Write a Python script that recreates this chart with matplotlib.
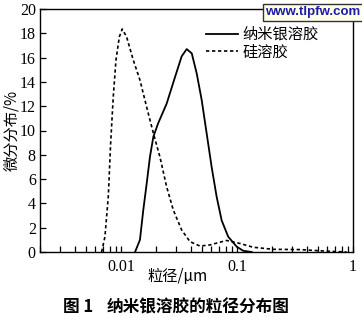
import matplotlib
matplotlib.use("Agg")
import matplotlib.pyplot as plt
from matplotlib.ticker import LogLocator, FixedLocator, NullFormatter, FixedFormatter

# ---- data ----
ag_x = [0.0132, 0.01455, 0.01555, 0.01664, 0.01776, 0.0190, 0.0209, 0.0247, 0.0292,
        0.0333, 0.0368, 0.0407, 0.0449, 0.0496, 0.0547, 0.0604, 0.0667, 0.0737,
        0.0839, 0.0993, 0.113, 0.134]
ag_y = [0.0, 1.0, 3.46, 5.65, 7.85, 9.5, 10.6, 12.2, 14.4,
        16.1, 16.7, 16.35, 14.7, 12.5, 9.77, 7.0, 4.55, 2.6,
        1.26, 0.44, 0.1, 0.0]

si_x = [0.0068, 0.00726, 0.00776, 0.00813, 0.00857, 0.00904, 0.00966, 0.01024, 0.01117,
        0.01274, 0.01455, 0.0166, 0.019, 0.0216, 0.0247, 0.0282, 0.0333, 0.0393,
        0.0479, 0.0584, 0.0689, 0.0813, 0.106, 0.138, 0.205, 0.348, 0.519, 0.67, 0.88]
si_y = [0.0, 1.26, 4.55, 8.94, 12.8, 15.8, 17.7, 18.35, 17.7,
        15.8, 14.15, 11.95, 9.77, 7.85, 5.38, 3.46, 1.81, 0.85,
        0.49, 0.58, 0.77, 0.95, 0.7, 0.39, 0.22, 0.2, 0.1, 0.05, 0.0]

series_names = ["纳米银溶胶", "硅溶胶"]
y_ticks = [0, 2, 4, 6, 8, 10, 12, 14, 16, 18, 20]
x_major = [0.01, 0.1, 1]
x_major_labels = ["0.01", "0.1", "1"]
x_label = "粒径/μm"
y_label = "微分分布/%"
caption_num = "图 1"
caption_text = "纳米银溶胶的粒径分布图"
watermark = "www.tlpfw.com"

W, H = 362, 318
fig = plt.figure(figsize=(W / 100, H / 100), dpi=100)
L, R, T, B = 40, 353, 9, 252
ax = fig.add_axes([L / W, 1 - B / H, (R - L) / W, (B - T) / H])

ax.plot(ag_x, ag_y, color="black", lw=1.3, linestyle="-", label=series_names[0])
ax.plot(si_x, si_y, color="black", lw=1.2, linestyle=(0, (2.0, 1.6)), label=series_names[1])

ax.set_xscale("log")
ax.set_xlim(0.002, 1)
ax.set_ylim(0, 20)

serif = ["Liberation Serif", "DejaVu Serif"]
cjk = ["Noto Sans CJK SC", "DejaVu Sans"]

ax.xaxis.set_major_locator(FixedLocator(x_major))
ax.xaxis.set_major_formatter(FixedFormatter(x_major_labels))
ax.xaxis.set_minor_locator(LogLocator(base=10, subs=[2, 3, 4, 5, 6, 7, 8, 9], numticks=20))
ax.xaxis.set_minor_formatter(NullFormatter())
ax.set_yticks(y_ticks)
ax.tick_params(axis="both", which="both", direction="in", length=4, width=0.9,
               top=False, right=False, labelsize=11.5)
ax.tick_params(axis="x", which="major", pad=5)
ax.tick_params(axis="y", which="major", pad=3)
for lab in ax.get_xticklabels() + ax.get_yticklabels():
    lab.set_family(serif)
for s in ax.spines.values():
    s.set_linewidth(1.0)

# legend: upper-left corner placed at pixel (206, 26)
leg = ax.legend(loc="upper left",
                bbox_to_anchor=((206 - L) / (R - L), (B - 26) / (B - T)),
                frameon=False, borderpad=0, borderaxespad=0,
                handlelength=2.1, handletextpad=0.3, labelspacing=0.05,
                prop={"family": cjk, "size": 11})

# axis labels
fig.text(178 / W, 1 - 277 / H, x_label, ha="center", va="center",
         fontsize=11, family=cjk)
fig.text(12 / W, 1 - 130 / H, y_label, ha="center", va="center",
         rotation=90, fontsize=11, family=cjk)

# caption
fig.text(63 / W, 1 - 307 / H, caption_num, ha="left", va="center",
         fontsize=12, family=cjk, fontweight="bold")
fig.text(107 / W, 1 - 307 / H, caption_text, ha="left", va="center",
         fontsize=12, family=cjk, fontweight="bold")

# watermark box
fig.text(313 / W, 1 - 12.5 / H, watermark, ha="center", va="center",
         fontsize=9.5, family=["Liberation Sans", "DejaVu Sans"], fontweight="bold",
         color="#1c1ca8",
         bbox=dict(boxstyle="square,pad=0.2", facecolor="#ffffe8",
                   edgecolor="#333333", linewidth=1.0))

fig.savefig("out.png", dpi=100)
